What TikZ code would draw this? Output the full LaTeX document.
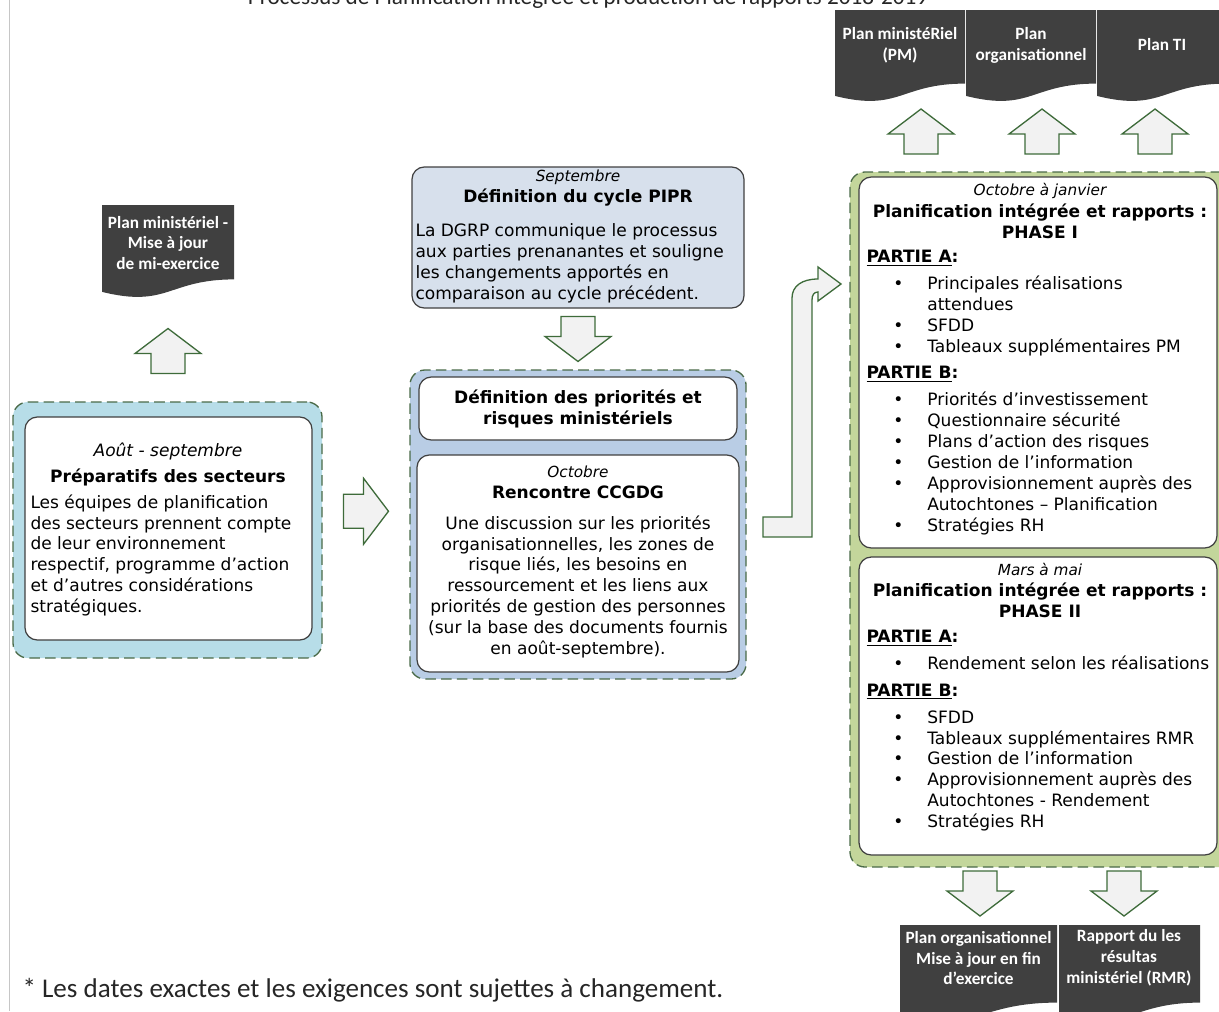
\documentclass[tikz,border=0pt]{standalone}
\usepackage{fontspec}
\setmainfont{DejaVu Sans}
\newfontfamily\calibfont{Carlito}
\usetikzlibrary{calc,fit}

\definecolor{docgray}{HTML}{404040}
\definecolor{arrowgreen}{HTML}{3E6B3A}
\definecolor{dashgreen}{HTML}{4A6A48}
\definecolor{panelblue}{HTML}{B7DDE8}
\definecolor{panelsteel}{HTML}{B9CDE5}
\definecolor{panelpale}{HTML}{D7E0EC}
\definecolor{panelolive}{HTML}{C3D69B}
\definecolor{arrowfill}{HTML}{F2F2F2}

\newcommand{\bodysize}{\fontsize{9.7}{11.9}\selectfont}
\newcommand{\datesize}{\fontsize{8.7}{10.5}\selectfont\itshape}
\newcommand{\docfont}{\calibfont\bfseries\fontsize{9.8}{11.9}\selectfont}
\newcommand{\itm}{\hspace*{15.3pt}\makebox[19.3pt][l]{\textbullet}}
\newcommand{\itmc}{\hspace*{34.6pt}}

\begin{document}
\begin{tikzpicture}[x=0.02cm,y=-0.02cm,line width=0.6pt,
  outerbox/.style={draw=dashgreen,line width=0.75pt,dash pattern=on 6pt off 3pt,rounded corners=8.5pt,inner sep=0pt},
  innerbox/.style={draw=black!75,fill=white,line width=0.7pt,rounded corners=7pt,inner sep=0pt},
  datetxt/.style={font=\datesize,inner sep=0pt},
  headtxt/.style={font=\bodysize\bfseries,inner sep=0pt,align=center},
  bodytxt/.style={font=\bodysize,inner sep=0pt},
  doctxt/.style={font=\docfont,text=white,align=center,inner sep=0pt},
  blockarrow/.style={draw=arrowgreen,fill=arrowfill,line width=0.75pt},
  pics/blockup/.style={code={\draw[blockarrow] (0,-22.5) -- (33,2.5) -- (17,2.5) -- (17,22.5) -- (-17,22.5) -- (-17,2.5) -- (-33,2.5) -- cycle;}},
  pics/docpage/.style 2 args={code={\fill[docgray] (0,0) -- (#1,0) -- (#1,0.80*#2) .. controls (0.5*#1,0.80*#2) and (0.5*#1,1.11*#2) .. (0,0.934*#2) -- cycle;}},
]
\useasboundingbox (0,0) rectangle (1219,1011);
\draw[gray!45,line width=0.5pt] (9.5,0) -- (9.5,1011);
% ---------- title (cut at the top) ----------
\node[font=\calibfont\fontsize{13.2}{15}\selectfont,text=black!85,anchor=base,inner sep=0pt] (title) at (588,4) {Processus de Planification intégrée et production de rapports 2018-2019};
% ---------- output documents ----------
\pic at (835,10) {docpage={130}{92}};
\pic at (966,10) {docpage={130}{92}};
\pic at (1097,10) {docpage={130}{92}};
\node[doctxt] (pmdoc) at (900,45.5) {Plan ministéRiel\\(PM)};
\node[doctxt] (orgdoc) at (1031,45.5) {Plan\\organisationnel};
\node[doctxt] (tidoc) at (1162,45) {Plan TI};
\pic at (102,205) {docpage={132}{93}};
\node[doctxt] (midyear) at (168,243) {Plan ministériel -\\Mise à jour\\de mi-exercice};
\pic at (900,925) {docpage={157}{97}};
\pic at (1059,925) {docpage={141}{97}};
\node[doctxt] (orgupd) at (978.5,958) {Plan organisationnel\\Mise à jour en fin\\d’exercice};
\node[doctxt] (rmr) at (1129,958) {Rapport du les\\résultas\\ministériel (RMR)};
% ---------- sector preparation ----------
\node[outerbox,fill=panelblue,fit={(13,402) (322,658)}] (prepout) {};
\node[innerbox,fit={(25,417) (312,640)}] (prep) {};
\node[bodytxt,font=\bodysize\itshape,anchor=base] (prepdate) at (168,456) {Août - septembre};
\node[headtxt,anchor=base] (prephead) at (168,482) {Préparatifs des secteurs};
\node[bodytxt,align=left,anchor=north west] (prepbody) at (30,494) {Les équipes de planification\\des secteurs prennent compte\\de leur environnement\\respectif, programme d’action\\et d’autres considérations\\stratégiques.};
% ---------- PIPR cycle ----------
\node[innerbox,fill=panelpale,fit={(412,167) (744,308)}] (pipr) {};
\node[datetxt,anchor=base] (piprdate) at (578,181) {Septembre};
\node[headtxt,anchor=base] (piprhead) at (578,202) {Définition du cycle PIPR};
\node[bodytxt,align=left,anchor=north west] (piprbody) at (415,223) {La DGRP communique le processus\\aux parties prenanantes et souligne\\les changements apportés en\\comparaison au cycle précédent.};
% ---------- priorities and CCGDG ----------
\node[outerbox,fill=panelsteel,fit={(410,370) (746,679)}] (prioout) {};
\node[innerbox,fit={(419,377) (737,440)}] (prio) {};
\node[headtxt] (priohead) at (prio.center) {Définition des priorités et\\risques ministériels};
\node[innerbox,fit={(417,455) (739,672)}] (ccgdg) {};
\node[datetxt,anchor=base] (ccgdgdate) at (578,477) {Octobre};
\node[headtxt,anchor=base] (ccgdghead) at (578,498) {Rencontre CCGDG};
\node[bodytxt,align=center,anchor=north] (ccgdgbody) at (578,515) {Une discussion sur les priorités\\organisationnelles, les zones de\\risque liés, les besoins en\\ressourcement et les liens aux\\priorités de gestion des personnes\\(sur la base des documents fournis\\en août-septembre).};
% ---------- integrated planning, phases I and II ----------
\node[outerbox,fill=panelolive,fit={(850,172) (1236,867)}] (phaseout) {};
\node[innerbox,fit={(859,177) (1217,548)}] (phase1) {};
\node[datetxt,anchor=base] (p1date) at (1040,195) {Octobre à janvier};
\node[headtxt,anchor=north] (p1head) at (1040,203) {Planification intégrée et rapports :\\PHASE I};
\node[bodytxt,align=left,anchor=north west] (p1body) at (866,249.5) {\textbf{\underline{PARTIE A}:}\\[3.4pt]
  \itm Principales réalisations\\
  \itmc attendues\\
  \itm SFDD\\
  \itm Tableaux supplémentaires PM\\[3.4pt]
  \textbf{\underline{PARTIE B}:}\\[3.4pt]
  \itm Priorités d’investissement\\
  \itm Questionnaire sécurité\\
  \itm Plans d’action des risques\\
  \itm Gestion de l’information\\
  \itm Approvisionnement auprès des\\
  \itmc Autochtones – Planification\\
  \itm Stratégies RH};
\node[innerbox,fit={(859,557) (1217,855)}] (phase2) {};
\node[datetxt,anchor=base] (p2date) at (1040,575) {Mars à mai};
\node[headtxt,anchor=north] (p2head) at (1040,582) {Planification intégrée et rapports :\\PHASE II};
\node[bodytxt,align=left,anchor=north west] (p2body) at (866,629.5) {\textbf{\underline{PARTIE A}:}\\[3.4pt]
  \itm Rendement selon les réalisations\\[3.4pt]
  \textbf{\underline{PARTIE B}:}\\[3.4pt]
  \itm SFDD\\
  \itm Tableaux supplémentaires RMR\\
  \itm Gestion de l’information\\
  \itm Approvisionnement auprès des\\
  \itmc Autochtones - Rendement\\
  \itm Stratégies RH};
% ---------- block arrows ----------
\pic at (921,131.5) {blockup};
\pic at (1042,131.5) {blockup};
\pic at (1155,131.5) {blockup};
\pic at (168,351) {blockup};
\pic[rotate=-90] at ($($(prepout.east)!0.5!(prioout.west)$)+(0,-16)$) {blockup};
\pic[rotate=180] at ($(pipr.south)!0.5!(prioout.north)$) {blockup};
\pic[rotate=180] at (980,893.5) {blockup};
\pic[rotate=180] at (1124,893.5) {blockup};
% bent arrow into phase I
\draw[blockarrow] (763,517) -- (792,517) -- (792,298) .. controls (792,286) and (802,279) .. (818,279) -- (818,267) -- (841,284) -- (818,301) -- (818,292) .. controls (814,292) and (812,295) .. (812,300) -- (812,537) -- (763,537) -- cycle;
% ---------- footnote ----------
\node[font=\calibfont\fontsize{15.4}{18}\selectfont,text=black!85,anchor=base west,inner sep=0pt] (note) at (22,997) {* Les dates exactes et les exigences sont sujettes à changement.};
\end{tikzpicture}
\end{document}
